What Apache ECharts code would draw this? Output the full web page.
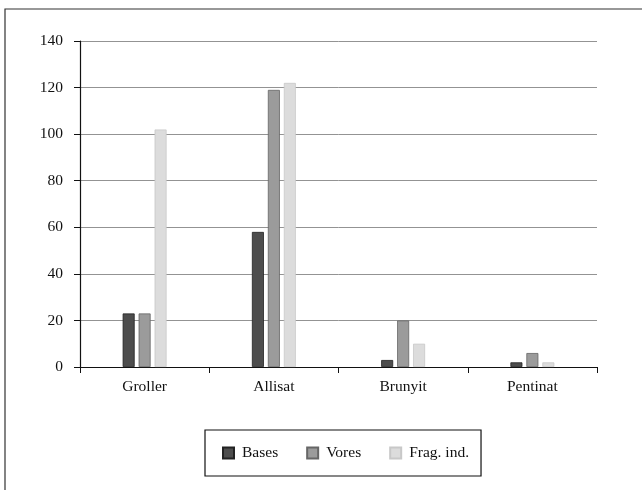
<!DOCTYPE html>
<html>
<head>
<meta charset="utf-8">
<script src="https://cdn.jsdelivr.net/npm/echarts@6/dist/echarts.min.js"></script>
<style>
  html, body { margin: 0; padding: 0; background: #fff; }
  #main { width: 642px; height: 490px; }
</style>
</head>
<body>
<div id="main"></div>
<script>
const categories = ['Groller', 'Allisat', 'Brunyit', 'Pentinat'];
const bases = [23, 58, 3, 2];
const vores = [23, 119, 20, 6];
const fragInd = [102, 122, 10, 2];
const seriesNames = ['Bases', 'Vores', 'Frag. ind.'];

const font = 'Liberation Serif';
var myChart = echarts.init(document.getElementById('main'));

function bar(name, data, color, border) {
    return {
        name: name,
        type: 'bar',
        data: data,
        barWidth: 12,
        barGap: '33%',
        itemStyle: { color: color, borderColor: border, borderWidth: 0.8 }
    };
}

var option = {
    animation: false,
    textStyle: { fontFamily: font },
    graphic: [{
        type: 'rect',
        shape: { x: 5, y: 9, width: 660, height: 500 },
        style: { fill: 'none', stroke: '#333', lineWidth: 1.2 }
    }],
    grid: { left: 80, right: 45, top: 41, bottom: 123 },
    legend: {
        data: seriesNames,
        left: 205,
        top: 430,
        padding: [15, 12, 15, 17],
        itemGap: 28,
        itemWidth: 11,
        itemHeight: 11,
        icon: 'rect',
        borderColor: '#111',
        borderWidth: 1.2,
        textStyle: { fontFamily: font, fontSize: 15.5, color: '#111', padding: [0, 0, 0, 3] }
    },
    xAxis: {
        type: 'category',
        data: categories,
        axisLine: { lineStyle: { color: '#111', width: 1.2 } },
        axisTick: { show: true, length: 6, lineStyle: { color: '#111' } },
        axisLabel: { fontFamily: font, fontSize: 15.5, color: '#111', margin: 12 }
    },
    yAxis: {
        type: 'value',
        min: 0,
        max: 140,
        interval: 20,
        axisLine: { show: true, lineStyle: { color: '#111', width: 1.2 } },
        axisTick: { show: true, inside: false, length: 6, lineStyle: { color: '#111' } },
        axisLabel: { fontFamily: font, fontSize: 15.5, color: '#111', margin: 17 },
        splitLine: { lineStyle: { color: '#777', width: 0.8 } }
    },
    series: [
        bar(seriesNames[0], bases, '#4d4d4d', '#222'),
        bar(seriesNames[1], vores, '#9b9b9b', '#666'),
        bar(seriesNames[2], fragInd, '#dcdcdc', '#c8c8c8')
    ]
};
myChart.setOption(option);
</script>
</body>
</html>
